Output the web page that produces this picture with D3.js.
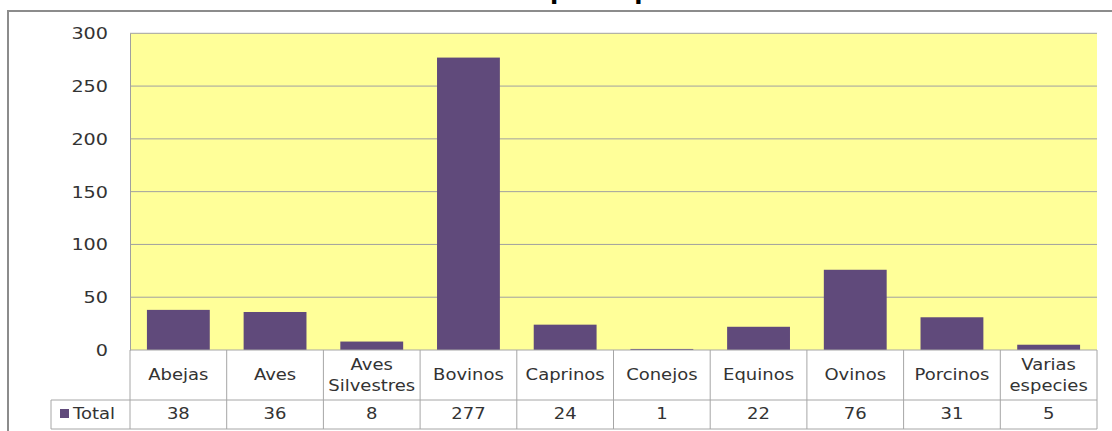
<!DOCTYPE html>
<html><head><meta charset="utf-8">
<script src="https://cdn.jsdelivr.net/npm/d3@7"></script>
<style>
html,body{margin:0;padding:0;background:#fff;overflow:hidden}
svg{display:block}
text{font-family:"DejaVu Sans",sans-serif;fill:#333}
</style></head>
<body>
<svg id="c" width="1112" height="431"></svg>
<script>
const categories = ["Abejas","Aves","Aves\nSilvestres","Bovinos","Caprinos","Conejos","Equinos","Ovinos","Porcinos","Varias\nespecies"];
const totals = [38,36,8,277,24,1,22,76,31,5];
const yTicks = [0,50,100,150,200,250,300];
const seriesName = "Total";
const title = "Total por especie";

const svg = d3.select("#c");
const W = 1112, H = 431;
const L = 130, R = 1097, T = 33.3, B = 350;
const row1B = 400, row2B = 429, legL = 51;
const SX = 1.2; // horizontal stretch of glyphs
const FS = 15;

const x = d3.scaleBand().domain(d3.range(categories.length)).range([L, R]).paddingInner(0.35).paddingOuter(0.175);
const col = d3.scaleBand().domain(d3.range(categories.length)).range([L, R]);
const y = d3.scaleLinear().domain([0, 300]).range([B, T]);

function stext(g, tx, ty, str, anchor, size, weight){
  return g.append("text")
    .attr("transform", `translate(${tx},${ty}) scale(${SX},1)`)
    .attr("text-anchor", anchor)
    .attr("dominant-baseline", "central")
    .style("font-size", size + "px")
    .style("font-weight", weight || "normal")
    .text(str);
}

// title (clipped at top, as in the reference)
svg.append("text")
  .attr("x", 476).attr("y", -1)
  .style("font-size", "24px").style("font-weight", "bold").style("fill", "#000")
  .text(title);

// outer frame
svg.append("rect").attr("x", 8).attr("y", 11).attr("width", W + 10).attr("height", H + 10)
  .attr("fill", "none").attr("stroke", "#8c8c8c").attr("stroke-width", 2);

// plot area
svg.append("rect").attr("x", L).attr("y", T).attr("width", R - L).attr("height", B - T).attr("fill", "#FFFF99");

// gridlines
svg.append("g").selectAll("line").data(yTicks.filter(d => d > 0)).join("line")
  .attr("x1", L).attr("x2", R).attr("y1", d => y(d)).attr("y2", d => y(d))
  .attr("stroke", "#a0a0a0").attr("stroke-width", 1);

// y axis via d3 axis
const yAxis = svg.append("g").attr("transform", `translate(${L},0)`)
  .call(d3.axisLeft(y).tickValues(yTicks).tickSize(0).tickPadding(22));
yAxis.select(".domain").attr("stroke", "#a0a0a0");
yAxis.selectAll(".tick text").each(function(){
  d3.select(this)
   .attr("x", null).attr("dy", null).attr("y", null)
   .attr("transform", `translate(-22,0) scale(${SX},1)`)
   .attr("text-anchor", "end").attr("dominant-baseline", "central")
   .style("font-size", "16px").style("font-family", "DejaVu Sans, sans-serif").attr("fill", "#333");
});

// bars
svg.append("g").selectAll("rect").data(totals).join("rect")
  .attr("x", (d, i) => x(i)).attr("width", x.bandwidth())
  .attr("y", d => y(d)).attr("height", d => y(0) - y(d))
  .attr("fill", "#604A7B");

// data table
const tg = svg.append("g");
const grid = "#a6a6a6";
tg.append("line").attr("x1", L).attr("x2", R).attr("y1", B).attr("y2", B).attr("stroke", grid);
tg.append("line").attr("x1", legL).attr("x2", R).attr("y1", row1B).attr("y2", row1B).attr("stroke", grid);
tg.append("line").attr("x1", legL).attr("x2", R).attr("y1", row2B).attr("y2", row2B).attr("stroke", grid);
tg.append("line").attr("x1", legL).attr("x2", legL).attr("y1", row1B).attr("y2", row2B).attr("stroke", grid);
tg.selectAll("line.v").data(d3.range(categories.length + 1)).join("line").attr("class", "v")
  .attr("x1", i => L + i * col.step()).attr("x2", i => L + i * col.step())
  .attr("y1", B).attr("y2", row2B).attr("stroke", grid);

categories.forEach((c, i) => {
  const cx = col(i) + col.bandwidth() / 2;
  const lines = c.split("\n");
  if (lines.length === 1) {
    stext(tg, cx, 375, lines[0], "middle", FS);
  } else {
    stext(tg, cx, 365, lines[0], "middle", FS);
    stext(tg, cx, 386, lines[1], "middle", FS);
  }
  stext(tg, cx, 414.5, String(totals[i]), "middle", FS);
});

// legend key
tg.append("rect").attr("x", 60).attr("y", 409).attr("width", 9).attr("height", 9).attr("fill", "#604A7B");
stext(tg, 73, 414.5, seriesName, "start", FS);
</script>
</body></html>
